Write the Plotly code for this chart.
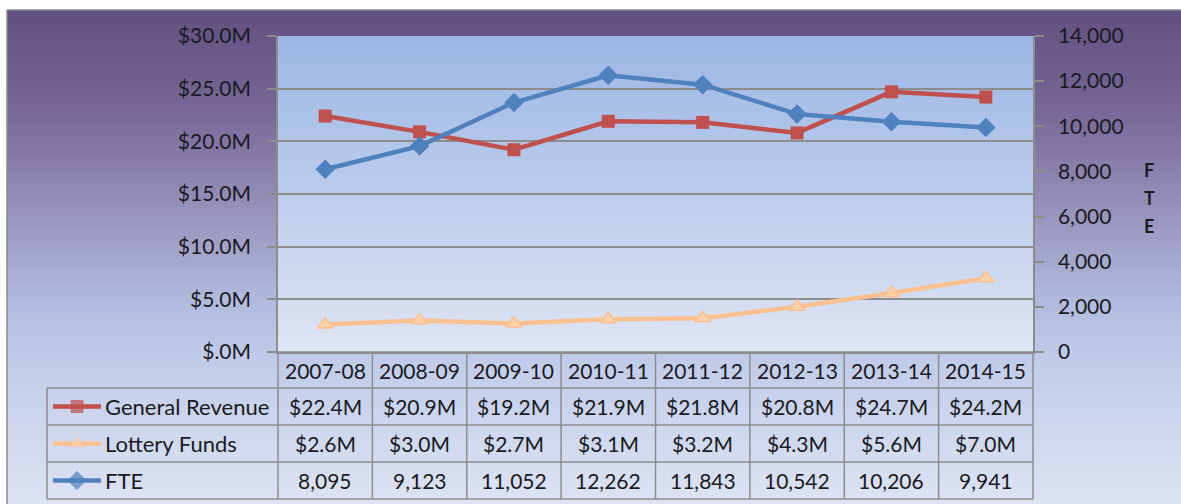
import base64
import plotly.graph_objects as go

# ---------------- data ----------------
categories = ["2007-08", "2008-09", "2009-10", "2010-11", "2011-12", "2012-13", "2013-14", "2014-15"]
general_revenue = [22.4, 20.9, 19.2, 21.9, 21.8, 20.8, 24.7, 24.2]   # $M
lottery_funds = [2.6, 3.0, 2.7, 3.1, 3.2, 4.3, 5.6, 7.0]              # $M
fte = [8095, 9123, 11052, 12262, 11843, 10542, 10206, 9941]
left_tickvals = [0, 5, 10, 15, 20, 25, 30]
left_ticktext = ["$.0M", "$5.0M", "$10.0M", "$15.0M", "$20.0M", "$25.0M", "$30.0M"]
right_tickvals = [0, 2000, 4000, 6000, 8000, 10000, 12000, 14000]
series_names = ["General Revenue", "Lottery Funds", "FTE"]
right_axis_title = "FTE"

# ---------------- layout geometry (pixels) ----------------
W, H = 1181, 504
PX0, PX1 = 278, 1033      # plot area x
PY0, PY1 = 36, 352        # plot area y (top, bottom)
TBL_X0 = 47
ROW_Y = [352, 388, 425, 462, 499]

def fx(px):
    return px / W

def fy(py):
    return 1 - py / H

C_GR = "#C0504D"
C_LF = "#FAC090"
C_FTE = "#4F81BD"
GRID = "#8C8C8C"
FONT = "Lato, 'Open Sans', sans-serif"
TXT = "#1A1A22"
FS = 21


def gradient_uri(stops):
    st = "".join(f'<stop offset="{o}" stop-color="{c}"/>' for o, c in stops)
    svg = ('<svg xmlns="http://www.w3.org/2000/svg" width="100" height="100" '
           'viewBox="0 0 100 100" preserveAspectRatio="none"><defs>'
           f'<linearGradient id="g" x1="0" y1="0" x2="0" y2="1">{st}</linearGradient>'
           '</defs><rect x="0" y="0" width="100" height="100" fill="url(#g)"/></svg>')
    return "data:image/svg+xml;base64," + base64.b64encode(svg.encode()).decode()


outer_grad = gradient_uri([(0, "#625080"), (0.2, "#766796"), (0.4, "#9691B9"),
                           (0.6, "#B2BCDE"), (0.72, "#C2CDEA"), (1, "#DDE3F3")])
plot_grad = gradient_uri([(0, "#9BB6E4"), (0.5, "#BCCDEC"), (1, "#DFE5F3")])

fig = go.Figure()

fig.add_trace(go.Scatter(
    x=categories, y=general_revenue, name=series_names[0], mode="lines+markers",
    line=dict(color=C_GR, width=4.5),
    marker=dict(symbol="square", size=13, color=C_GR),
    xaxis="x", yaxis="y", cliponaxis=False))
fig.add_trace(go.Scatter(
    x=categories, y=lottery_funds, name=series_names[1], mode="lines+markers",
    line=dict(color=C_LF, width=4.5),
    marker=dict(symbol="triangle-up", size=14, color="#FCD0A8", line=dict(color=C_LF, width=1.5)),
    xaxis="x", yaxis="y", cliponaxis=False))
fig.add_trace(go.Scatter(
    x=categories, y=fte, name=series_names[2], mode="lines+markers",
    line=dict(color=C_FTE, width=4.5),
    marker=dict(symbol="diamond", size=15, color=C_FTE),
    xaxis="x", yaxis="y2", cliponaxis=False))

# legend keys inside the data table (on a full-figure pixel axis)
key_styles = [
    dict(color=C_GR, symbol="square", size=12, mcolor=C_GR, mline=C_GR),
    dict(color=C_LF, symbol="triangle-up", size=13, mcolor="#FCD0A8", mline=C_LF),
    dict(color=C_FTE, symbol="diamond", size=14, mcolor=C_FTE, mline=C_FTE),
]
for i, ks in enumerate(key_styles):
    yc = (ROW_Y[i + 1] + ROW_Y[i + 2]) / 2
    fig.add_trace(go.Scatter(
        x=[53, 77, 101], y=[yc, yc, yc], mode="lines+markers", showlegend=False,
        line=dict(color=ks["color"], width=4.5),
        marker=dict(symbol=ks["symbol"], size=[0, ks["size"], 0], color=ks["mcolor"],
                    line=dict(color=ks["mline"], width=1)),
        xaxis="x3", yaxis="y3", hoverinfo="skip", cliponaxis=False))

shapes = []
# outer border (top/left)
shapes.append(dict(type="line", xref="paper", yref="paper", x0=fx(7), x1=1.0, y0=fy(10), y1=fy(10),
                   line=dict(color="#8A8A8A", width=1.5), layer="above"))
shapes.append(dict(type="line", xref="paper", yref="paper", x0=fx(7), x1=fx(7), y0=fy(10), y1=0,
                   line=dict(color="#8A8A8A", width=1.5), layer="above"))
# table horizontal lines
for j, yy in enumerate(ROW_Y):
    x0 = PX0 if j == 0 else TBL_X0
    shapes.append(dict(type="line", xref="paper", yref="paper", x0=fx(x0), x1=fx(PX1),
                       y0=fy(yy), y1=fy(yy), line=dict(color=GRID, width=1.5)))
# table vertical lines
colw = (PX1 - PX0) / len(categories)
shapes.append(dict(type="line", xref="paper", yref="paper", x0=fx(TBL_X0), x1=fx(TBL_X0),
                   y0=fy(ROW_Y[1]), y1=fy(ROW_Y[-1]), line=dict(color=GRID, width=1.5)))
for k in range(len(categories) + 1):
    xx = PX0 + k * colw
    shapes.append(dict(type="line", xref="paper", yref="paper", x0=fx(xx), x1=fx(xx),
                       y0=fy(ROW_Y[0]), y1=fy(ROW_Y[-1]), line=dict(color=GRID, width=1.5)))

annotations = []
row_values = [
    [f"${v:.1f}M" for v in general_revenue],
    [f"${v:.1f}M" for v in lottery_funds],
    [f"{v:,}" for v in fte],
]
tfont = dict(family=FONT, size=FS, color=TXT)
hdr_y = fy((ROW_Y[0] + ROW_Y[1]) / 2)
for c in categories:
    annotations.append(dict(x=c, xref="x", y=hdr_y, yref="paper", text=c, showarrow=False,
                            xanchor="center", yanchor="middle", font=tfont))
for r, vals in enumerate(row_values):
    yc = fy((ROW_Y[r + 1] + ROW_Y[r + 2]) / 2)
    annotations.append(dict(x=fx(103), xref="paper", y=yc, yref="paper", text=series_names[r],
                            showarrow=False, xanchor="left", yanchor="middle",
                            font=dict(family=FONT, size=22, color=TXT)))
    for c, t in zip(categories, vals):
        annotations.append(dict(x=c, xref="x", y=yc, yref="paper", text=t, showarrow=False,
                                xanchor="center", yanchor="middle", font=tfont))
# right axis title, letters stacked
for i, ch in enumerate(right_axis_title):
    annotations.append(dict(x=fx(1149), xref="paper", y=fy(170 + 28 * i), yref="paper", text=ch,
                            showarrow=False, xanchor="center", yanchor="middle",
                            font=dict(family=FONT, size=18, color=TXT, weight="bold")))

images = [
    dict(source=outer_grad, xref="paper", yref="paper", x=fx(7), y=fy(10),
         sizex=fx(W - 7), sizey=fy(10), sizing="stretch", xanchor="left", yanchor="top",
         layer="below"),
    dict(source=plot_grad, xref="paper", yref="paper", x=fx(PX0), y=fy(PY0),
         sizex=fx(PX1 - PX0), sizey=(PY1 - PY0) / H, sizing="stretch", xanchor="left",
         yanchor="top", layer="below"),
]

fig.update_layout(
    width=W, height=H,
    margin=dict(l=0, r=0, t=0, b=0, pad=0, autoexpand=False),
    paper_bgcolor="white", plot_bgcolor="rgba(0,0,0,0)",
    showlegend=False,
    font=dict(family=FONT, size=FS, color=TXT),
    xaxis=dict(domain=[fx(PX0), fx(PX1)], anchor="y", type="category",
               categoryorder="array", categoryarray=categories,
               range=[-0.5, len(categories) - 0.5], showticklabels=False, automargin=False,
               showgrid=False, showline=True, linecolor=GRID, linewidth=1.5, ticks=""),
    yaxis=dict(domain=[fy(PY1), fy(PY0)], anchor="x", range=[0, 30],
               tickvals=left_tickvals, ticktext=left_ticktext, automargin=False,
               showgrid=True, gridcolor=GRID, gridwidth=1.5,
               showline=True, linecolor=GRID, linewidth=1.5,
               ticks="outside", ticklen=9, tickcolor=GRID, tickwidth=1.5,
               ticklabelstandoff=12, zeroline=False,
               tickfont=dict(family=FONT, size=FS, color=TXT)),
    yaxis2=dict(overlaying="y", anchor="x", side="right", range=[0, 14000],
                tickvals=right_tickvals, tickformat=",d", automargin=False,
                showgrid=False, showline=True, linecolor=GRID, linewidth=1.5,
                ticks="outside", ticklen=9, tickcolor=GRID, tickwidth=1.5,
                ticklabelstandoff=10, zeroline=False,
                tickfont=dict(family=FONT, size=FS, color=TXT)),
    xaxis3=dict(domain=[0, 1], anchor="y3", range=[0, W], visible=False, fixedrange=True,
                showticklabels=False, automargin=False, showgrid=False, zeroline=False),
    yaxis3=dict(domain=[0, 1], anchor="x3", range=[H, 0], visible=False, fixedrange=True,
                showticklabels=False, automargin=False, showgrid=False, zeroline=False),
    shapes=shapes, annotations=annotations, images=images,
)

fig.write_html(
    "out.html",
    config={"displayModeBar": False},
    post_script=("document.documentElement.style.margin='0';"
                 "document.body.style.margin='0';"),
)
